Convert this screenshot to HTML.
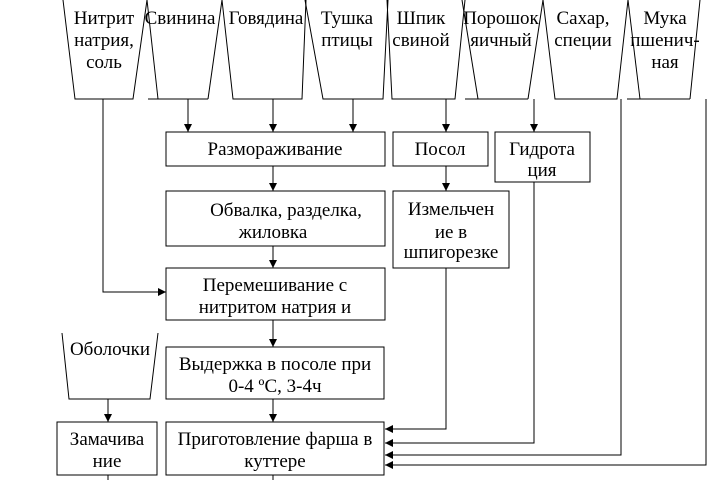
<!DOCTYPE html>
<html><head><meta charset="utf-8"><style>
html,body{margin:0;padding:0;background:#fff;}
svg{display:block;}
text{font-family:"Liberation Serif","DejaVu Serif",serif;font-size:19px;fill:#000;text-anchor:middle;}
</style></head><body>
<svg width="728" height="480" viewBox="0 0 728 480" xmlns="http://www.w3.org/2000/svg">
<defs>
<marker id="a" markerWidth="8" markerHeight="8" refX="8" refY="4" orient="auto" markerUnits="userSpaceOnUse">
<path d="M0,0 L8,4 L0,8 z" fill="#000"/></marker>
</defs>
<g fill="none" stroke="#000" stroke-width="1">
<polyline points="63,0 75,99 133,99 147,0"/>
<polyline points="147,0 158,99"/><line x1="148" y1="99" x2="208" y2="99"/><line x1="208" y1="99" x2="222" y2="0"/>
<polyline points="222,0 233,99 302,99 306,0"/>
<polyline points="305,0 323,99 383,99 388,0"/>
<polyline points="387,0 392,99 455,99 465,0"/>
<polyline points="462,0 478,99"/><line x1="465" y1="99" x2="528" y2="99"/><line x1="528" y1="99" x2="543" y2="0"/>
<polyline points="543,0 555,99 617,99 628,0"/>
<polyline points="628,0 640,99"/><line x1="627" y1="99" x2="690" y2="99"/><line x1="690" y1="99" x2="700" y2="0"/>
<polyline points="62,333 69,399 150,399 158,333"/>
<rect x="166" y="132" width="219" height="34"/>
<rect x="393" y="132" width="95" height="34"/>
<rect x="495" y="132" width="95" height="50"/>
<rect x="166" y="191" width="219" height="55"/>
<rect x="393" y="191" width="116" height="77"/>
<rect x="166" y="268" width="219" height="52"/>
<rect x="166" y="347" width="218" height="52"/>
<rect x="57" y="422" width="100" height="53"/>
<rect x="166" y="422" width="218" height="53"/>
<line x1="188" y1="99" x2="188" y2="132" marker-end="url(#a)"/>
<line x1="273" y1="99" x2="273" y2="132" marker-end="url(#a)"/>
<line x1="353" y1="99" x2="353" y2="132" marker-end="url(#a)"/>
<line x1="446" y1="99" x2="446" y2="132" marker-end="url(#a)"/>
<line x1="534" y1="99" x2="534" y2="132" marker-end="url(#a)"/>
<line x1="273" y1="166" x2="273" y2="191" marker-end="url(#a)"/>
<line x1="446" y1="166" x2="446" y2="191" marker-end="url(#a)"/>
<line x1="273" y1="246" x2="273" y2="268" marker-end="url(#a)"/>
<polyline points="103,99 103,292 166,292" marker-end="url(#a)"/>
<line x1="273" y1="320" x2="273" y2="347" marker-end="url(#a)"/>
<line x1="273" y1="399" x2="273" y2="422" marker-end="url(#a)"/>
<line x1="108" y1="399" x2="108" y2="422" marker-end="url(#a)"/>
<polyline points="446,268 446,429 385,429" marker-end="url(#a)"/>
<polyline points="534,182 534,443 385,443" marker-end="url(#a)"/>
<polyline points="621,99 621,455 385,455" marker-end="url(#a)"/>
<polyline points="706,99 706,465 385,465" marker-end="url(#a)"/>
<line x1="108" y1="475" x2="108" y2="480"/>
<line x1="273" y1="475" x2="273" y2="480"/>
</g>
<text x="104" y="24">Нитрит</text><text x="104" y="46">натрия,</text><text x="104" y="68">соль</text>
<text x="180" y="24">Свинина</text>
<text x="266" y="24">Говядина</text>
<text x="347" y="24">Тушка</text><text x="347" y="46">птицы</text>
<text x="421" y="24">Шпик</text><text x="421" y="46">свиной</text>
<text x="501" y="24">Порошок</text><text x="501" y="46">яичный</text>
<text x="583" y="24">Сахар,</text><text x="583" y="46">специи</text>
<text x="665" y="24">Мука</text><text x="665" y="46">пшенич-</text><text x="665" y="68">ная</text>
<text x="275" y="155">Размораживание</text>
<text x="440" y="155">Посол</text>
<text x="542" y="155">Гидрота</text><text x="542" y="176">ция</text>
<text x="286" y="216">Обвалка, разделка,</text><text x="273" y="238">жиловка</text>
<text x="451" y="215">Измельчен</text><text x="451" y="238">ие в</text><text x="451" y="258">шпигорезке</text>
<text x="275" y="291">Перемешивание с</text><text x="275" y="313">нитритом натрия и</text>
<text x="110" y="355">Оболочки</text>
<text x="275" y="370">Выдержка в посоле при</text><text x="275" y="392">0-4 ºС, 3-4ч</text>
<text x="107" y="445">Замачива</text><text x="107" y="467">ние</text>
<text x="275" y="445">Приготовление фарша в</text><text x="275" y="467">куттере</text>
</svg>
</body></html>
